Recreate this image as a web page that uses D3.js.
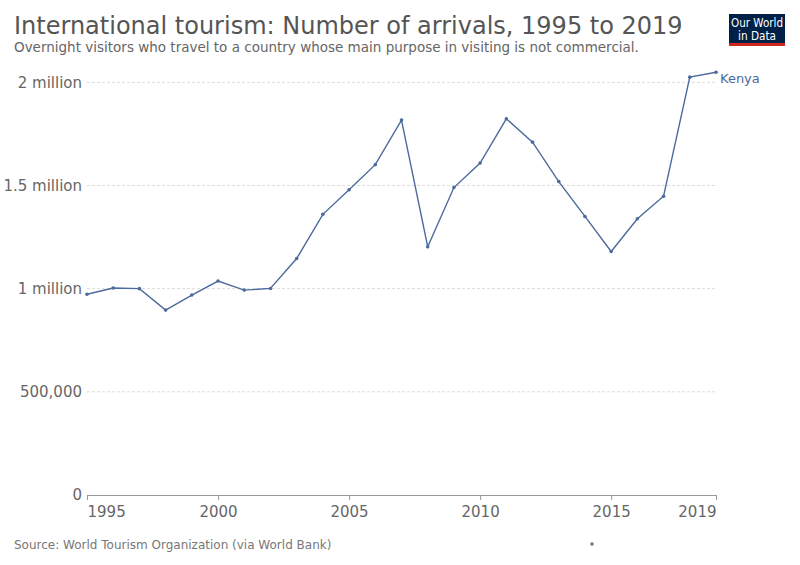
<!DOCTYPE html>
<html><head><meta charset="utf-8">
<script src="https://cdn.jsdelivr.net/npm/d3@7"></script>
<style>body{margin:0;background:#fff}svg{display:block}text{font-family:"DejaVu Sans",sans-serif}</style>
</head><body>
<svg id="c" width="800" height="565"></svg>
<script>
const years = [1995,1996,1997,1998,1999,2000,2001,2002,2003,2004,2005,2006,2007,2008,2009,2010,2011,2012,2013,2014,2015,2016,2017,2018,2019];
const arrivals = [973000,1003000,1000000,896000,969000,1037000,993000,1001000,1146000,1360000,1479000,1601000,1817000,1203000,1490000,1609000,1823000,1710000,1519000,1350000,1180000,1339000,1448000,2025000,2049000];
const yTicks = [0,500000,1000000,1500000,2000000];
const yTickLabels = ["0","500,000","1 million","1.5 million","2 million"];
const xTicks = [1995,2000,2005,2010,2015,2019];
const seriesName = "Kenya";
const title = "International tourism: Number of arrivals, 1995 to 2019";
const subtitle = "Overnight visitors who travel to a country whose main purpose in visiting is not commercial.";
const source = "Source: World Tourism Organization (via World Bank)";

const svg = d3.select("#c");
const x = d3.scaleLinear().domain([1995,2019]).range([87,716]);
const y = d3.scaleLinear().domain([0,2000000]).range([495,82.3]);
const col = "#4c6a9c";

svg.append("text").attr("x",14).attr("y",34).attr("font-size",24).attr("fill","#555").text(title);
svg.append("text").attr("x",14).attr("y",52).attr("font-size",13.5).attr("fill","#666").text(subtitle);

// logo
const lg = svg.append("g");
lg.append("rect").attr("x",729).attr("y",14).attr("width",56).attr("height",29).attr("fill","#002147");
lg.append("rect").attr("x",729).attr("y",43).attr("width",56).attr("height",3).attr("fill","#ce261e");
lg.append("text").attr("x",731).attr("y",27).attr("font-size",12).attr("textLength",52).attr("lengthAdjust","spacingAndGlyphs")
  .attr("fill","#fff").text("Our World");
lg.append("text").attr("x",738).attr("y",39.5).attr("font-size",12).attr("textLength",38).attr("lengthAdjust","spacingAndGlyphs")
  .attr("fill","#fff").text("in Data");

// grid
yTicks.forEach((t,i)=>{
  if(t>0) svg.append("line").attr("x1",87).attr("x2",716).attr("y1",y(t)).attr("y2",y(t))
    .attr("stroke","#ddd").attr("stroke-dasharray","3,2");
  svg.append("text").attr("x",82).attr("y",y(t)).attr("dy","0.35em").attr("text-anchor","end")
    .attr("font-size",15).attr("fill","#666").text(yTickLabels[i]);
});

// x axis
const xa = svg.append("g").attr("transform","translate(0,495)")
  .call(d3.axisBottom(x).tickValues(xTicks).tickFormat(d3.format("d")).tickSize(5).tickSizeOuter(0));
xa.select(".domain").attr("stroke","#999");
xa.selectAll(".tick line").attr("stroke","#999");
xa.selectAll(".tick text").attr("font-size",15).attr("fill","#666").attr("font-family","DejaVu Sans").attr("dy","0.9em")
  .attr("text-anchor",d=>d===1995?"start":(d===2019?"end":"middle"));

// line
const line = d3.line().x((d,i)=>x(years[i])).y(d=>y(d));
svg.append("path").datum(arrivals).attr("d",line).attr("fill","none").attr("stroke",col).attr("stroke-width",1.4);
svg.selectAll("circle.pt").data(arrivals).enter().append("circle").attr("class","pt")
  .attr("cx",(d,i)=>x(years[i])).attr("cy",d=>y(d)).attr("r",1.8).attr("fill",col);
svg.append("text").attr("x",720).attr("y",y(arrivals[arrivals.length-1])+6).attr("dy","0.35em")
  .attr("font-size",13).attr("fill",col).text(seriesName);

svg.append("text").attr("x",14).attr("y",549).attr("font-size",12).attr("fill","#777").text(source);
svg.append("circle").attr("cx",592).attr("cy",544).attr("r",1.8).attr("fill","#777");
</script>
</body></html>
